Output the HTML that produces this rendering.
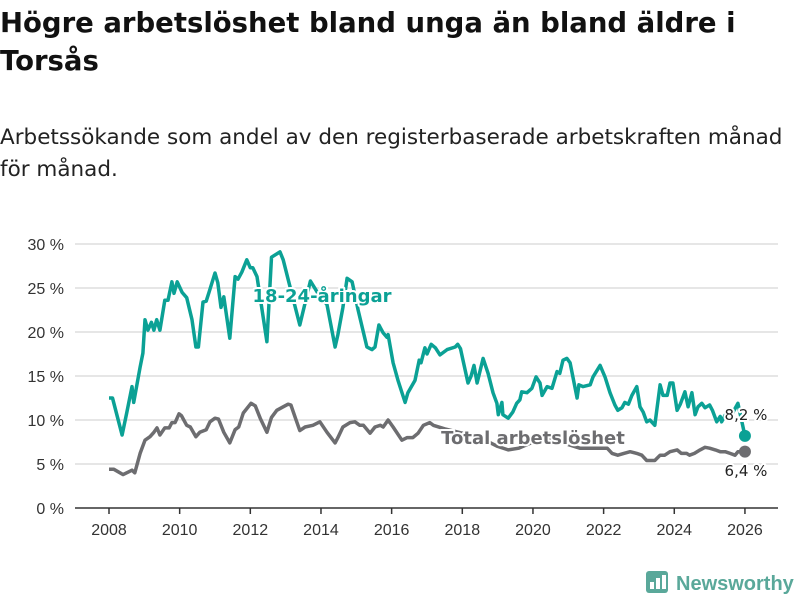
<!DOCTYPE html>
<html><head><meta charset="utf-8">
<style>
body{margin:0;background:#fff;font-family:"Liberation Sans",sans-serif;}
#wrap{position:relative;width:800px;height:600px;overflow:hidden;}
h1{position:absolute;left:0;top:4px;margin:0;font-family:"DejaVu Sans",sans-serif;font-size:27.5px;line-height:38px;font-weight:bold;color:#111;width:790px;}
p.sub{position:absolute;left:0;top:122px;margin:0;font-family:"DejaVu Sans",sans-serif;font-size:21.5px;line-height:32px;color:#222;width:795px;}
svg{position:absolute;left:0;top:0;}
</style></head><body>
<div id="wrap">
<h1>Högre arbetslöshet bland unga än bland äldre i Torsås</h1>
<p class="sub">Arbetssökande som andel av den registerbaserade arbetskraften månad för månad.</p>
<svg id="chart" width="800" height="600"></svg>
</div>
<script>
const youthDates=[2008.0,2008.1,2008.37,2008.5,2008.65,2008.7,2008.88,2008.96,2009.02,2009.1,2009.2,2009.27,2009.35,2009.44,2009.58,2009.67,2009.78,2009.84,2009.93,2010.07,2010.2,2010.35,2010.46,2010.53,2010.66,2010.75,2010.83,2011.0,2011.08,2011.17,2011.25,2011.42,2011.57,2011.65,2011.76,2011.9,2012.0,2012.07,2012.19,2012.47,2012.6,2012.84,2012.93,2013.1,2013.4,2013.7,2013.9,2014.17,2014.4,2014.48,2014.62,2014.74,2014.88,2015.05,2015.3,2015.44,2015.53,2015.64,2015.76,2015.87,2015.9,2016.04,2016.18,2016.38,2016.46,2016.66,2016.78,2016.83,2016.94,2017.0,2017.12,2017.24,2017.37,2017.57,2017.8,2017.87,2017.95,2018.02,2018.16,2018.25,2018.33,2018.42,2018.59,2018.73,2018.87,2018.98,2019.02,2019.12,2019.15,2019.3,2019.43,2019.54,2019.63,2019.68,2019.83,2019.97,2020.09,2020.2,2020.26,2020.4,2020.54,2020.68,2020.76,2020.85,2020.96,2021.05,2021.13,2021.25,2021.3,2021.42,2021.62,2021.7,2021.9,2022.04,2022.18,2022.32,2022.4,2022.52,2022.6,2022.7,2022.8,2022.94,2023.03,2023.12,2023.22,2023.31,2023.45,2023.6,2023.68,2023.8,2023.88,2023.96,2024.08,2024.17,2024.3,2024.39,2024.5,2024.59,2024.67,2024.78,2024.87,2025.0,2025.08,2025.2,2025.3,2025.34,2025.5,2025.65,2025.8,2026.0];
const youthValues=[12.5,12.5,8.3,10.8,13.8,12,16,17.6,21.4,20.2,21.1,20.2,21.4,20.2,23.6,23.6,25.7,24.4,25.7,24.5,23.9,21.4,18.3,18.3,23.4,23.5,24.5,26.7,25.6,22.8,24,19.3,26.3,26,26.8,28.2,27.3,27.3,26.3,18.9,28.5,29.1,28.2,25.5,20.8,25.8,24.5,23.1,18.3,19.7,22.8,26.1,25.7,22.5,18.3,18,18.3,20.8,19.9,19.4,19.7,16.5,14.5,12,13.1,14.5,16.8,16.5,18.2,17.5,18.6,18.2,17.4,18,18.3,18.6,18.1,16.8,14.2,15,16.2,14.2,17,15.3,13.1,11.9,10.6,12,10.6,10.2,10.9,11.9,12.3,13.2,13.1,13.6,14.9,14.2,12.8,13.8,13.6,15.5,15.3,16.8,17,16.5,14.9,12.5,14,13.8,14,14.9,16.2,14.9,13.1,11.7,11.1,11.4,12,11.8,12.8,13.8,11.5,10.9,9.8,10,9.4,14,12.8,12.8,14.2,14.2,11.1,11.8,13.2,11.5,13.1,10.6,11.5,11.9,11.4,11.7,11.1,9.8,10.4,9.8,11,10.8,11.9,8.2];
const totalDates=[2008.0,2008.14,2008.4,2008.5,2008.65,2008.73,2008.88,2009.02,2009.16,2009.27,2009.36,2009.44,2009.58,2009.7,2009.78,2009.87,2009.98,2010.05,2010.2,2010.3,2010.46,2010.57,2010.75,2010.86,2011.0,2011.1,2011.25,2011.42,2011.57,2011.67,2011.8,2012.02,2012.14,2012.28,2012.47,2012.6,2012.75,2012.93,2013.07,2013.15,2013.27,2013.4,2013.55,2013.77,2013.97,2014.17,2014.4,2014.48,2014.62,2014.82,2014.96,2015.1,2015.2,2015.39,2015.53,2015.68,2015.76,2015.9,2016.04,2016.29,2016.44,2016.6,2016.75,2016.9,2017.08,2017.18,2017.5,2018.0,2018.5,2019.0,2019.3,2019.6,2020.0,2020.5,2021.0,2021.33,2021.6,2022.1,2022.24,2022.4,2022.57,2022.75,2022.94,2023.08,2023.22,2023.45,2023.6,2023.73,2023.88,2024.08,2024.2,2024.35,2024.43,2024.57,2024.73,2024.87,2025.0,2025.16,2025.3,2025.44,2025.58,2025.72,2025.8,2026.0];
const totalValues=[4.4,4.4,3.8,4,4.3,4,6.2,7.7,8.1,8.6,9.1,8.3,9.1,9.1,9.7,9.7,10.7,10.5,9.4,9.2,8.1,8.6,8.9,9.8,10.2,10.1,8.6,7.4,8.9,9.2,10.8,11.9,11.6,10.2,8.6,10.3,11.1,11.5,11.8,11.7,10.3,8.8,9.2,9.4,9.8,8.6,7.4,8,9.2,9.7,9.8,9.4,9.4,8.5,9.2,9.4,9.2,10,9.2,7.7,8,8,8.5,9.4,9.7,9.4,9,8.5,8,7,6.6,6.8,7.5,7.8,7.2,6.8,6.8,6.8,6.2,6,6.2,6.4,6.2,6,5.4,5.4,6,6,6.4,6.6,6.2,6.2,6,6.2,6.6,6.9,6.8,6.6,6.4,6.4,6.2,6,6.4,6.4];
const yTicks=[0,5,10,15,20,25,30];
const xTicks=[2008,2010,2012,2014,2016,2018,2020,2022,2024,2026];

const NS="http://www.w3.org/2000/svg";
const svg=document.getElementById('chart');
const X=y=>109+(y-2008)*35.33;
const Y=v=>508-v*8.8;
function mk(tag,attrs,parent){const e=document.createElementNS(NS,tag);for(const k in attrs)e.setAttribute(k,attrs[k]);(parent||svg).appendChild(e);return e;}

yTicks.forEach(t=>{
  const g=mk('line',{x1:75,x2:778,y1:Y(t),y2:Y(t),stroke:t===0?'#333':'#ddd','stroke-width':1.5});
  
  
  const tx=mk('text',{x:64,y:Y(t)+6,'text-anchor':'end','font-size':16,fill:'#333','font-family':'Liberation Sans, sans-serif'});
  tx.textContent=t+' %';
  
  
});
xTicks.forEach(t=>{
  const l=mk('line',{x1:X(t),x2:X(t),y1:508,y2:514,stroke:'#333','stroke-width':1.5});
  
  
  const tx=mk('text',{x:X(t),y:535,'text-anchor':'middle','font-size':16,fill:'#333','font-family':'Liberation Sans, sans-serif'});
  tx.textContent=t;
  
  
});
function path(d,v){return d.map((x,i)=>(i?'L':'M')+X(x).toFixed(1)+','+Y(v[i]).toFixed(1)).join('');}
const tl=mk('path',{d:path(totalDates,totalValues),fill:'none',stroke:'#6d6d70','stroke-width':3.5,'stroke-linejoin':'round'});


const yl=mk('path',{d:path(youthDates,youthValues),fill:'none',stroke:'#0ba195','stroke-width':3.5,'stroke-linejoin':'round'});


const d1=mk('circle',{cx:X(youthDates[youthDates.length-1]),cy:Y(youthValues[youthValues.length-1]),r:6,fill:'#0ba195'});


const d2=mk('circle',{cx:X(totalDates[totalDates.length-1]),cy:Y(totalValues[totalValues.length-1]),r:6,fill:'#6d6d70'});


function label(txt,x,y,attrs,name){
  const a=Object.assign({x:x,y:y,'font-family':'DejaVu Sans, sans-serif',stroke:'#fff','stroke-width':4,'paint-order':'stroke','stroke-linejoin':'round'},attrs);
  const t=mk('text',a);t.textContent=txt;
  
  
}
label('18-24-åringar',322,302,{'text-anchor':'middle','font-size':18,'font-weight':'bold',fill:'#0ba195'},'youth-series-label');
label('Total arbetslöshet',533,444,{'text-anchor':'middle','font-size':18,'font-weight':'bold',fill:'#6d6d70'},'total-series-label');
label('8,2 %',746,420,{'text-anchor':'middle','font-size':15,fill:'#222'},'youth-value-label');
label('6,4 %',746,476,{'text-anchor':'middle','font-size':15,fill:'#222'},'total-value-label');
const lg=mk('g',{});


mk('rect',{x:646,y:571,width:22,height:22,rx:3,fill:'#5aa89a'},lg);
mk('path',{d:'M650,589 L650,582 L654,582 L654,589 Z M656,589 L656,578 L660,578 L660,589 Z M662,589 L662,575 L666,575 L666,589 Z',fill:'#fff'},lg);
const lt=mk('text',{x:676,y:590,'font-size':20,'font-weight':'bold',fill:'#5aa89a','font-family':'Liberation Sans, sans-serif'},lg);
lt.textContent='Newsworthy';
</script>
</body></html>
